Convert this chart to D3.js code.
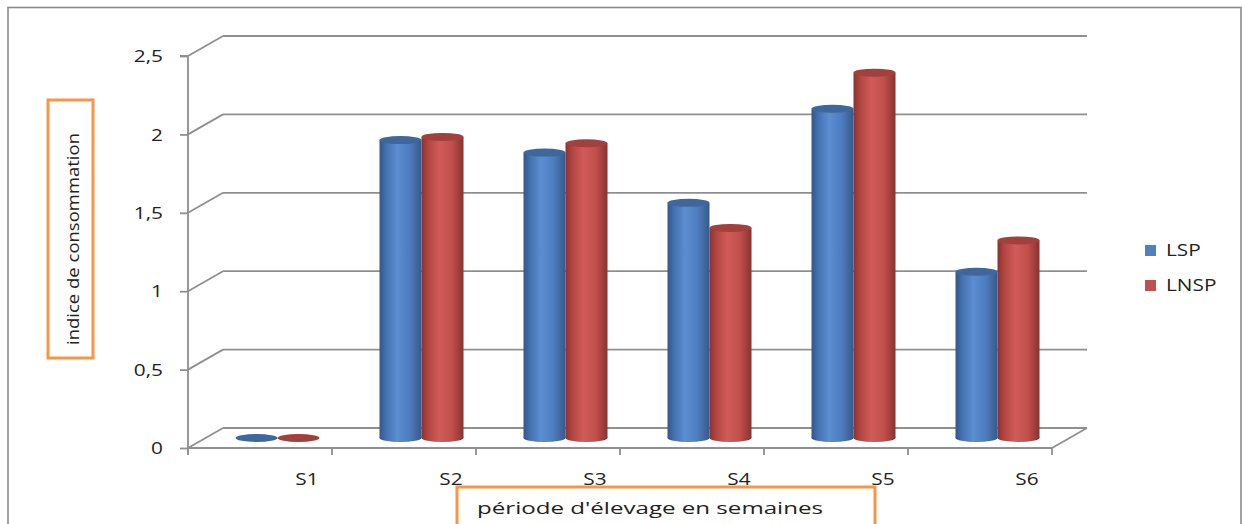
<!DOCTYPE html>
<html>
<head>
<meta charset="utf-8">
<script src="https://cdn.jsdelivr.net/npm/d3@7"></script>
<style>
  html, body { margin: 0; padding: 0; background: #fff; }
  svg { display: block; }
  text { font-family: "Open Sans", "DejaVu Sans", sans-serif; fill: #222; }
</style>
</head>
<body>
<svg id="chart" width="1242" height="524"></svg>
<script>
// Data
const categories = ["S1", "S2", "S3", "S4", "S5", "S6"];
const seriesNames = ["LSP", "LNSP"];
const lspValues  = [0, 1.90, 1.82, 1.50, 2.10, 1.06];
const lnspValues = [0, 1.92, 1.88, 1.34, 2.33, 1.26];
const yTicks = [0, 0.5, 1, 1.5, 2, 2.5];
const yTitle = "indice de consommation";
const xTitle = "période d'élevage en semaines";

const seriesValues = [lspValues, lnspValues];
const seriesColors = ["#4f81bd", "#c0504d"];

const svg = d3.select("#chart");

// Horizontal widening applied to the chart's labels
const stretch = 1.3;

// Perspective offset of the back wall
const depthX = 35, depthY = -20;
const gridColor = "#8f8f8f";

const x = d3.scaleBand().domain(categories).range([188, 1052]);
const y = d3.scaleLinear().domain([0, 2.5]).range([448, 56]);
const xs = d3.scaleBand().domain(seriesNames).range([0, x.bandwidth()]).paddingOuter(30 / 42);

// Outer frame
svg.append("rect")
  .attr("x", 8).attr("y", 7.5).attr("width", 1233).attr("height", 530)
  .attr("fill", "none").attr("stroke", "#8a8a8a").attr("stroke-width", 1.6);

// Gradients for cylinders
const defs = svg.append("defs");
const gradStops = [
  ["#33578a", "#4674b3", "#5b8dd1", "#4c7dbe", "#36598a"],
  ["#8a3331", "#b54744", "#d15b58", "#c24f4c", "#873331"]
];
const capColors = ["#3f679b", "#a1403d"];
gradStops.forEach((stops, i) => {
  const g = defs.append("linearGradient").attr("id", "cyl" + i)
    .attr("x1", "0%").attr("x2", "100%").attr("y1", "0%").attr("y2", "0%");
  [0, 0.18, 0.42, 0.72, 1].forEach((o, k) => {
    g.append("stop").attr("offset", o).attr("stop-color", stops[k]);
  });
});

// Back wall gridlines and left wall connectors
const grid = svg.append("g").attr("stroke", gridColor).attr("stroke-width", 1.8).attr("fill", "none");
yTicks.forEach(t => {
  grid.append("line")
    .attr("x1", x.range()[0]).attr("y1", y(t))
    .attr("x2", x.range()[0] + depthX).attr("y2", y(t) + depthY);
  grid.append("line")
    .attr("x1", x.range()[0] + depthX).attr("y1", y(t) + depthY)
    .attr("x2", x.range()[1] + depthX).attr("y2", y(t) + depthY);
});
// Floor front edge and right side
grid.append("line")
  .attr("x1", x.range()[0]).attr("y1", y(0))
  .attr("x2", x.range()[1]).attr("y2", y(0));
grid.append("line")
  .attr("x1", x.range()[1]).attr("y1", y(0))
  .attr("x2", x.range()[1] + depthX).attr("y2", y(0) + depthY);

// Y axis
const yAxis = d3.axisLeft(y).tickValues(yTicks).tickSize(8).tickPadding(17)
  .tickFormat(d => String(d).replace(".", ","));
const yg = svg.append("g").attr("transform", `translate(${x.range()[0]},0)`).call(yAxis);
yg.select(".domain").attr("stroke", gridColor).attr("stroke-width", 1.8)
  .attr("d", `M-8,${y(2.5)}H0V${y(0) + 7}`);
yg.selectAll(".tick line").attr("stroke", gridColor).attr("stroke-width", 1.8);
yg.selectAll(".tick text").attr("font-size", 16).attr("fill", "#222")
  .attr("font-family", "'Open Sans', sans-serif").attr("dy", "0.36em")
  .attr("x", -25 / stretch)
  .attr("transform", `scale(${stretch},1)`);

// X axis ticks (category boundaries) and labels
const xBounds = categories.map(c => x(c)).concat([x.range()[1]]);
svg.append("g").selectAll("line").data(xBounds).join("line")
  .attr("x1", d => d).attr("x2", d => d)
  .attr("y1", y(0)).attr("y2", y(0) + 7)
  .attr("stroke", gridColor).attr("stroke-width", 1.8);
svg.append("g").selectAll("text").data(categories).join("text")
  .attr("transform", d => `translate(${x(d) + x.bandwidth() / 2 + 47},485) scale(${stretch},1)`)
  .attr("text-anchor", "middle")
  .attr("font-size", 16)
  .text(d => d);

// Cylinders, placed at mid depth
const midX = depthX / 2, midY = depthY / 2;
const ry = 4;
const bars = svg.append("g");
categories.forEach((c, ci) => {
  seriesNames.forEach((s, si) => {
    const v = seriesValues[si][ci];
    const bx = x(c) + xs(s) + midX;
    const bw = xs.bandwidth();
    const cx = bx + bw / 2;
    const yTop = y(v) + midY;
    const yBot = y(0) + midY;
    const g = bars.append("g");
    if (v > 0) {
      g.append("ellipse").attr("cx", cx).attr("cy", yBot).attr("rx", bw / 2).attr("ry", ry)
        .attr("fill", `url(#cyl${si})`);
      g.append("rect").attr("x", bx).attr("y", yTop).attr("width", bw).attr("height", yBot - yTop)
        .attr("fill", `url(#cyl${si})`);
    }
    g.append("ellipse").attr("cx", cx).attr("cy", yTop).attr("rx", bw / 2).attr("ry", ry)
      .attr("fill", capColors[si]);
  });
});

// Legend
const legend = svg.append("g");
seriesNames.forEach((s, i) => {
  legend.append("rect").attr("x", 1145).attr("y", 245 + i * 35).attr("width", 11).attr("height", 11)
    .attr("fill", seriesColors[i]);
  legend.append("text")
    .attr("transform", `translate(1166,${256 + i * 35}) scale(${stretch},1)`)
    .attr("font-size", 16).text(s);
});

// Axis titles in orange boxes
const orange = "#f79646";
svg.append("rect").attr("x", 48).attr("y", 100).attr("width", 45).attr("height", 258)
  .attr("fill", "#fff").attr("stroke", orange).attr("stroke-width", 3);
svg.append("text")
  .attr("transform", "translate(79,239) rotate(-90)")
  .attr("text-anchor", "middle")
  .attr("font-size", 16.5)
  .attr("textLength", 212).attr("lengthAdjust", "spacingAndGlyphs")
  .text(yTitle);

svg.append("rect").attr("x", 457).attr("y", 487).attr("width", 418).attr("height", 60)
  .attr("fill", "#fff").attr("stroke", orange).attr("stroke-width", 3);
svg.append("text")
  .attr("x", 477).attr("y", 514)
  .attr("font-size", 16.5)
  .attr("textLength", 346).attr("lengthAdjust", "spacingAndGlyphs")
  .text(xTitle);
</script>
</body>
</html>
